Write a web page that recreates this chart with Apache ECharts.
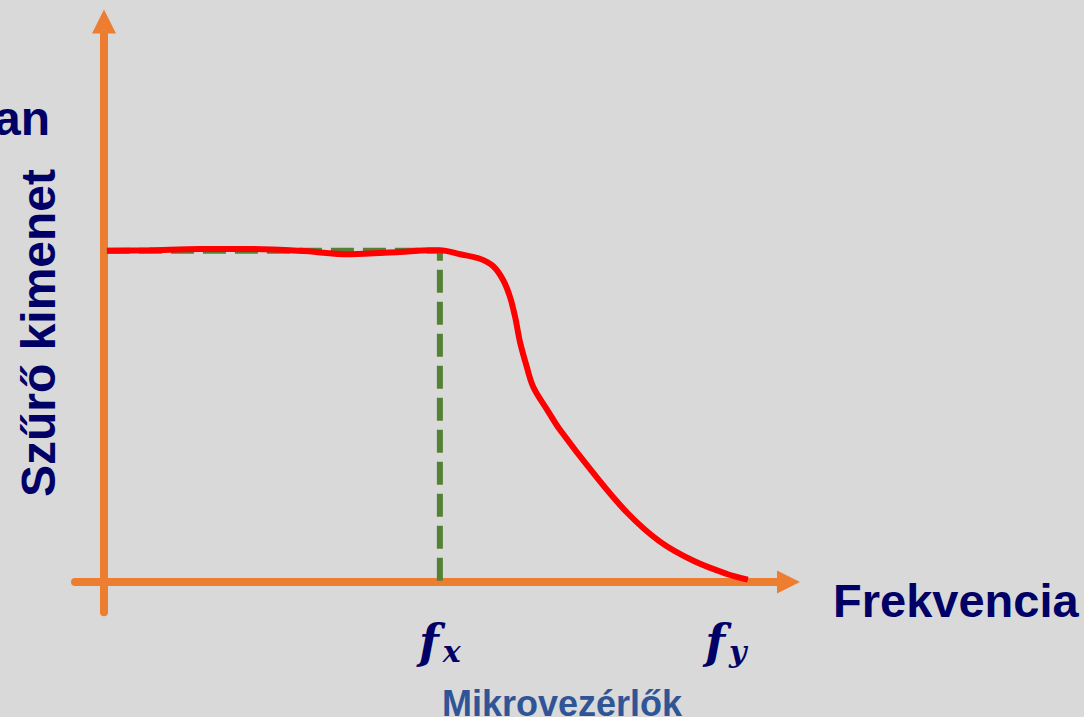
<!DOCTYPE html>
<html>
<head>
<meta charset="utf-8">
<title>Szűrő kimenet</title>
<script src="https://cdn.jsdelivr.net/npm/echarts@6/dist/echarts.min.js"></script>
<style>
  html, body { margin: 0; padding: 0; background: #d9d9d9; }
  #chart { width: 1084px; height: 717px; }
</style>
</head>
<body>
<div id="chart"></div>
<script>
// szűrő válasz görbe (frekvencia, kimenet)
const curveX = [0.05, 0.79, 1.66, 2.52, 3.38, 4.24, 5.10, 5.62, 5.79, 6.14, 6.48, 6.71, 6.88, 7.00, 7.09, 7.17, 7.28, 7.40, 7.64, 7.86, 8.43, 9.02, 9.59, 10.16, 10.74, 11.10]
const curveY = [5.79, 5.80, 5.82, 5.82, 5.79, 5.73, 5.77, 5.80, 5.80, 5.73, 5.65, 5.52, 5.28, 4.98, 4.62, 4.20, 3.79, 3.41, 3.01, 2.66, 1.91, 1.21, 0.70, 0.37, 0.14, 0.04]

// szaggatott segédvonal: szint és f_x
const levelY = 5.79
const fx = 5.79
const fy = 10.72

// tengely címkék
const tickValues = [fx, fy]
const tickSubs = ['x', 'y']

const navy = '#000066'
const orange = '#ed7d31'

const chart = echarts.init(document.getElementById('chart'), null, { renderer: 'svg' })

const option = {
  backgroundColor: '#d9d9d9',
  animation: false,
  grid: { left: 75, right: 295.5, top: 21.4, bottom: 104.7 },
  xAxis: {
    type: 'value',
    min: -0.5,
    max: 11.8,
    splitLine: { show: false },
    axisTick: { show: false },
    axisLine: {
      onZero: true,
      symbol: ['none', 'triangle'],
      symbolSize: [23, 23],
      lineStyle: { color: orange, width: 8 }
    },
    axisLabel: {
      customValues: tickValues,
      margin: 6,
      verticalAlign: 'top',
      formatter: v => '{f|f}{s|' + tickSubs[tickValues.indexOf(v)] + '}',
      rich: {
        f: { fontFamily: 'DejaVu Serif', fontStyle: 'italic', fontWeight: 'bold', fontSize: 46, color: navy },
        s: { fontFamily: 'DejaVu Serif', fontStyle: 'italic', fontWeight: 'bold', fontSize: 30, color: navy, padding: [18, 0, 0, 4] }
      }
    }
  },
  yAxis: {
    type: 'value',
    min: -0.53,
    max: 9.8,
    splitLine: { show: false },
    axisTick: { show: false },
    axisLabel: { show: false },
    axisLine: {
      onZero: true,
      symbol: ['none', 'triangle'],
      symbolSize: [24, 24],
      lineStyle: { color: orange, width: 8 }
    }
  },
  series: [
    {
      type: 'line',
      data: [[curveX[0], levelY], [fx, levelY], [fx, 0]],
      symbol: 'none',
      lineStyle: { color: '#548235', width: 6, type: [23, 9] },
      z: 2
    },
    {
      type: 'line',
      data: curveX.map((x, i) => [x, curveY[i]]),
      symbol: 'none',
      smooth: 0.35,
      lineStyle: { color: '#ff0000', width: 6 },
      z: 3
    }
  ],
  graphic: [
    {
      type: 'text', x: 50, y: 118,
      style: { text: 'an', fill: navy, font: 'bold 48px "Liberation Sans", Arial, sans-serif', align: 'right', verticalAlign: 'middle' }
    },
    {
      type: 'text', x: 38, y: 333, rotation: Math.PI / 2,
      style: { text: 'Szűrő kimenet', fill: navy, font: 'bold 48px "Liberation Sans", Arial, sans-serif', align: 'center', verticalAlign: 'middle' }
    },
    {
      type: 'text', x: 833, y: 600,
      style: { text: 'Frekvencia', fill: navy, font: 'bold 47px "Liberation Sans", Arial, sans-serif', align: 'left', verticalAlign: 'middle' }
    },
    {
      type: 'text', x: 562, y: 703,
      style: { text: 'Mikrovezérlők', fill: '#2f5597', font: 'bold 36px "Liberation Sans", Arial, sans-serif', align: 'center', verticalAlign: 'middle' }
    }
  ]
}

chart.setOption(option)
</script>
</body>
</html>
